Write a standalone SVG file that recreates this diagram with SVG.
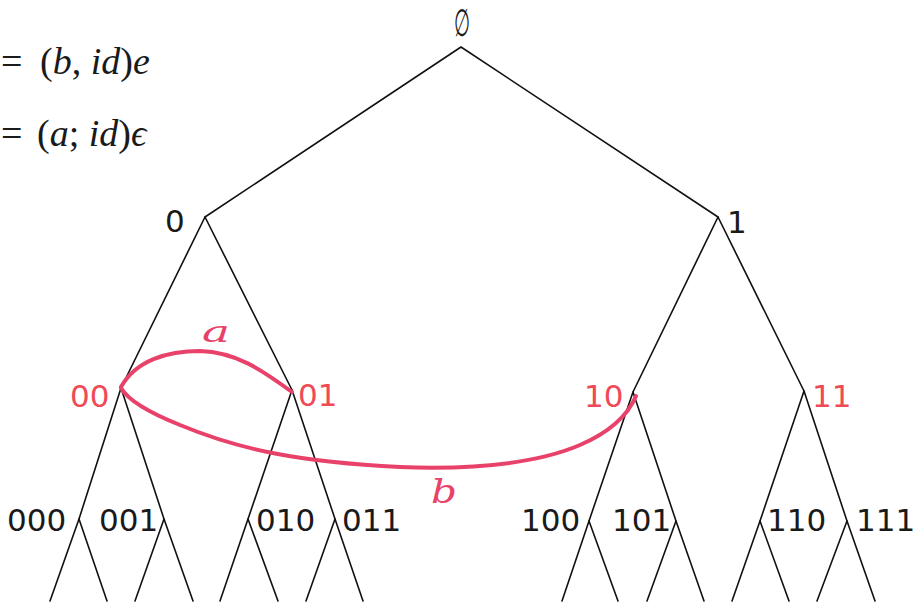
<svg xmlns="http://www.w3.org/2000/svg" width="924" height="607" viewBox="0 0 924 607">
<style>
.bg{fill:#ffffff}
.edge{stroke:#111111;stroke-width:1.6;fill:none;stroke-linecap:round}
.lbl{font-family:"DejaVu Sans","Liberation Sans",sans-serif;font-size:31px;fill:#1a1a1a}
.red{fill:#ef4a55}
.math{font-family:"Liberation Serif","DejaVu Serif",serif;font-size:38px;fill:#1a1a1a}
.it{font-style:italic}
.hand{stroke:#e8426a;stroke-width:4;fill:none;stroke-linecap:round;stroke-linejoin:round}
.handtxt{font-family:"DejaVu Serif","Liberation Serif",serif;font-style:italic;fill:#e8426a}
</style>
<rect class="bg" x="0" y="0" width="924" height="607"/>

<g id="formula">
  <text class="math" y="74"><tspan x="1">=</tspan><tspan x="40">(</tspan><tspan class="it">b</tspan>, <tspan class="it">id</tspan>)<tspan class="it">e</tspan></text>
  <text class="math" y="146"><tspan x="1">=</tspan><tspan x="37">(</tspan><tspan class="it">a</tspan>; <tspan class="it">id</tspan>)<tspan class="it">ϵ</tspan></text>
</g>

<g id="connectors">
  <path class="edge" d="M461,47 L205,217 M461,47 L718,217"/>
  <path class="edge" d="M205,217 L121,388 M205,217 L292,390 M718,217 L633,392 M718,217 L804,391"/>
  <path class="edge" d="M121,388 L79,519 M121,388 L164,519 M292,390 L248,519 M292,390 L335,519"/>
  <path class="edge" d="M633,392 L589,521 M633,392 L676,521 M804,391 L760,521 M804,391 L847,521"/>
  <path class="edge" d="M79,519 L50,601 M79,519 L107,601 M164,519 L135,601 M164,519 L193,601 M248,519 L220,601 M248,519 L278,601 M335,519 L306,601 M335,519 L363,601"/>
  <path class="edge" d="M589,521 L562,601 M589,521 L618,601 M676,521 L647,601 M676,521 L704,601 M760,521 L732,601 M760,521 L789,601 M847,521 L817,601 M847,521 L875,601"/>
</g>

<g id="node-root"><text class="lbl" x="462" y="36" text-anchor="middle" style="font-size:38px" textLength="16" lengthAdjust="spacingAndGlyphs">∅</text></g>
<g id="node-0"><text class="lbl" x="165" y="232">0</text></g>
<g id="node-1"><text class="lbl" x="727" y="233">1</text></g>
<g id="node-00"><text class="lbl red" x="70" y="407">00</text></g>
<g id="node-01"><text class="lbl red" x="298" y="406">01</text></g>
<g id="node-10"><text class="lbl red" x="584" y="407">10</text></g>
<g id="node-11"><text class="lbl red" x="812" y="407">11</text></g>
<g id="node-000"><text class="lbl" x="7" y="531">000</text></g>
<g id="node-001"><text class="lbl" x="99" y="531">001</text></g>
<g id="node-010"><text class="lbl" x="256" y="531">010</text></g>
<g id="node-011"><text class="lbl" x="342" y="531">011</text></g>
<g id="node-100"><text class="lbl" x="521" y="531">100</text></g>
<g id="node-101"><text class="lbl" x="612" y="531">101</text></g>
<g id="node-110"><text class="lbl" x="767" y="531">110</text></g>
<g id="node-111"><text class="lbl" x="856" y="531">111</text></g>

<g id="relations">
  <path class="hand" d="M121,387 C136,360 168,351 200,351 C236,352 262,370 292,392"/>
  <path class="hand" d="M121,388 C128,400 150,413 180,425 C240,450 300,462 400,467 C480,470 540,462 580,445 C610,432 628,415 636,396"/>
  <text class="handtxt" x="202" y="342" font-size="30" textLength="28" lengthAdjust="spacingAndGlyphs">a</text>
  <text class="handtxt" x="431" y="503" font-size="34" textLength="26" lengthAdjust="spacingAndGlyphs">b</text>
</g>
</svg>
